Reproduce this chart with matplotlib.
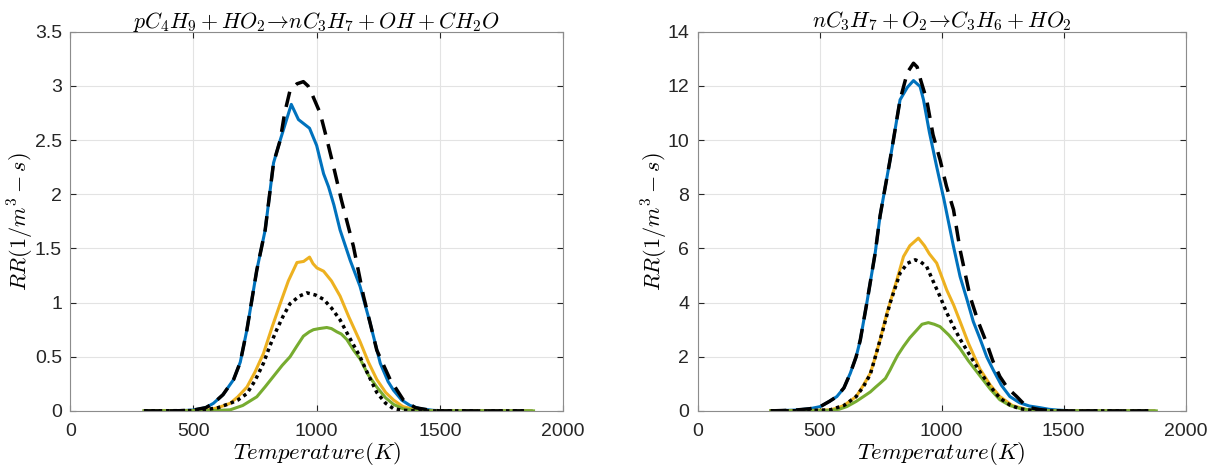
import numpy as np
import matplotlib
matplotlib.use('Agg')
import matplotlib.pyplot as plt
from matplotlib.ticker import FormatStrFormatter

plt.rcParams['font.family'] = ['Liberation Sans', 'DejaVu Sans']
plt.rcParams['mathtext.fontset'] = 'cm'

# colours (MATLAB default order)
c_blue = '#0072BD'
c_orange = '#EDB120'
c_green = '#77AC30'

# ---- left panel: pC4H9 + HO2 -> nC3H7 + OH + CH2O ----
L_blue_T = [300, 400, 450, 500, 550, 581, 620, 663, 690, 717, 757, 791, 825, 852, 897, 926, 971, 1000,
            1028, 1048, 1070, 1095, 1136, 1176, 1217, 1258, 1290, 1312, 1345, 1379, 1420, 1474, 1520, 1870]
L_blue = [0, 0, 0.002, 0.008, 0.03, 0.07, 0.15, 0.29, 0.45, 0.75, 1.30, 1.67, 2.29, 2.50, 2.83, 2.69, 2.61, 2.45,
          2.19, 2.07, 1.90, 1.67, 1.39, 1.15, 0.81, 0.44, 0.27, 0.19, 0.10, 0.05, 0.02, 0.005, 0, 0]

L_dash_T = [300, 400, 450, 500, 550, 581, 620, 663, 690, 717, 757, 791, 825, 852, 870, 892, 920, 946, 965, 980,
            1014, 1040, 1068, 1100, 1149, 1190, 1217, 1244, 1298, 1352, 1400, 1450, 1500, 1840]
L_dash = [0, 0, 0.002, 0.008, 0.03, 0.07, 0.15, 0.29, 0.45, 0.75, 1.30, 1.67, 2.29, 2.50, 2.75, 2.96, 3.02, 3.04, 3.0, 2.93,
          2.75, 2.52, 2.26, 1.95, 1.52, 1.06, 0.81, 0.56, 0.29, 0.10, 0.03, 0.01, 0, 0]

L_orange_T = [300, 500, 560, 600, 649, 680, 717, 750, 784, 820, 852, 885, 920, 947, 971, 985, 1001, 1028, 1060,
              1095, 1130, 1176, 1210, 1244, 1280, 1312, 1350, 1400, 1450, 1870]
L_orange = [0, 0.002, 0.01, 0.03, 0.07, 0.13, 0.22, 0.36, 0.53, 0.78, 0.99, 1.20, 1.37, 1.38, 1.42, 1.36, 1.32, 1.29, 1.20,
            1.06, 0.87, 0.64, 0.45, 0.29, 0.17, 0.10, 0.04, 0.01, 0, 0]

L_dot_T = [300, 500, 560, 600, 649, 680, 717, 750, 784, 810, 838, 865, 892, 930, 960, 995, 1028, 1060, 1095,
           1130, 1176, 1210, 1244, 1280, 1312, 1350, 1400, 1850]
L_dot = [0, 0.003, 0.015, 0.03, 0.07, 0.10, 0.16, 0.28, 0.44, 0.60, 0.75, 0.88, 0.99, 1.06, 1.09, 1.07, 1.03, 0.95, 0.84,
         0.69, 0.50, 0.33, 0.17, 0.07, 0.02, 0.005, 0, 0]

L_green_T = [300, 550, 600, 649, 700, 757, 790, 825, 860, 892, 920, 946, 970, 987, 1010, 1041, 1060, 1082, 1100,
             1122, 1150, 1176, 1210, 1244, 1280, 1312, 1350, 1400, 1450, 1880]
L_green = [0, 0.002, 0.005, 0.01, 0.05, 0.13, 0.22, 0.32, 0.42, 0.50, 0.60, 0.69, 0.73, 0.75, 0.76, 0.77, 0.76, 0.73, 0.71,
           0.66, 0.56, 0.48, 0.33, 0.22, 0.12, 0.06, 0.02, 0.005, 0, 0]

# ---- right panel: nC3H7 + O2 -> C3H6 + HO2 ----
R_blue_T = [300, 400, 460, 503, 540, 571, 600, 626, 650, 667, 694, 728, 748, 789, 830, 860, 885, 912, 926, 950, 980,
            1010, 1035, 1049, 1076, 1103, 1130, 1157, 1185, 1212, 1245, 1280, 1320, 1360, 1403, 1440, 1476, 1520, 1600, 1870]
R_blue = [0, 0.03, 0.08, 0.16, 0.35, 0.53, 0.85, 1.39, 2.0, 2.62, 4.0, 5.83, 7.2, 9.27, 11.49, 11.95, 12.2, 11.98, 11.49,
          10.3, 9.02, 7.8, 6.69, 6.07, 4.96, 4.15, 3.3, 2.68, 2.0, 1.51, 0.95, 0.53, 0.30, 0.18, 0.12, 0.06, 0.03, 0.01, 0, 0]

R_dash_T = [300, 400, 460, 503, 540, 571, 600, 626, 650, 667, 694, 728, 748, 789, 830, 860, 885, 900, 915, 939, 965,
            994, 1020, 1049, 1076, 1117, 1150, 1185, 1210, 1239, 1270, 1308, 1335, 1362, 1400, 1450, 1500, 1860]
R_dash = [0, 0.03, 0.08, 0.16, 0.35, 0.53, 0.85, 1.39, 2.0, 2.62, 4.0, 5.83, 7.2, 9.27, 11.49, 12.5, 12.84, 12.7, 12.2,
          11.49, 10.2, 9.27, 8.3, 7.43, 5.95, 4.22, 3.3, 2.50, 1.85, 1.27, 0.85, 0.53, 0.28, 0.12, 0.05, 0.01, 0, 0]

R_orange_T = [300, 450, 544, 571, 600, 650, 680, 708, 721, 748, 776, 817, 844, 870, 905, 930, 950, 980, 1021, 1050,
              1076, 1110, 1157, 1200, 1239, 1290, 1349, 1400, 1450, 1870]
R_orange = [0, 0.01, 0.04, 0.1, 0.2, 0.53, 0.95, 1.39, 1.76, 2.62, 3.61, 4.84, 5.70, 6.1, 6.38, 6.1, 5.8, 5.46, 4.47, 3.9,
            3.3, 2.5, 1.55, 0.95, 0.53, 0.2, 0.05, 0.01, 0, 0]

R_dot_T = [300, 450, 544, 571, 600, 650, 680, 708, 735, 760, 789, 830, 860, 892, 915, 939, 965, 994, 1020, 1049, 1076,
           1103, 1157, 1200, 1239, 1280, 1320, 1370, 1420, 1850]
R_dot = [0, 0.01, 0.04, 0.12, 0.2, 0.53, 0.9, 1.35, 2.2, 3.0, 3.98, 5.09, 5.45, 5.58, 5.5, 5.33, 4.8, 4.22, 3.65, 3.11,
         2.65, 2.25, 1.45, 0.9, 0.47, 0.22, 0.08, 0.02, 0, 0]

R_green_T = [300, 500, 544, 580, 612, 650, 680, 708, 730, 748, 770, 789, 803, 820, 844, 870, 899, 920, 946, 970, 994,
             1030, 1076, 1110, 1157, 1200, 1239, 1280, 1330, 1380, 1430, 1880]
R_green = [0, 0.005, 0.02, 0.06, 0.16, 0.35, 0.53, 0.70, 0.88, 1.02, 1.2, 1.51, 1.76, 2.05, 2.38, 2.7, 2.99, 3.2, 3.26,
           3.2, 3.11, 2.8, 2.3, 1.85, 1.3, 0.8, 0.41, 0.2, 0.07, 0.02, 0, 0]

titles = [r'$pC_4H_9+HO_2\!\rightarrow\! nC_3H_7+OH+CH_2O$',
          r'$nC_3H_7+O_2\!\rightarrow\! C_3H_6+HO_2$']

fig = plt.figure(figsize=(12.11, 4.68), dpi=100)
ax1 = fig.add_axes([0.058, 0.122, 0.407, 0.810])
ax2 = fig.add_axes([0.576, 0.122, 0.403, 0.810])

lw = 2.2
panels = [
    (ax1, (L_blue_T, L_blue), (L_orange_T, L_orange), (L_green_T, L_green), (L_dash_T, L_dash), (L_dot_T, L_dot), 3.5, 0.5, -0.069),
    (ax2, (R_blue_T, R_blue), (R_orange_T, R_orange), (R_green_T, R_green), (R_dash_T, R_dash), (R_dot_T, R_dot), 14, 2, -0.056),
]

for i, (ax, b, o, g, d, p, ymax, ystep, ylab_x) in enumerate(panels):
    ax.plot(*b, color=c_blue, lw=lw)
    ax.plot(*o, color=c_orange, lw=lw)
    ax.plot(*g, color=c_green, lw=lw)
    ax.plot(*d, color='black', lw=lw + 0.3, linestyle=(0, (4.5, 2.8)))
    ax.plot(*p, color='black', lw=lw + 0.3, linestyle=(0, (1, 1.1)))

    ax.set_xlim(0, 2000)
    ax.set_ylim(0, ymax)
    ax.set_xticks(np.arange(0, 2001, 500))
    ax.set_yticks(np.arange(0, ymax + 0.001, ystep))
    ax.yaxis.set_major_formatter(FormatStrFormatter('%g'))
    ax.grid(True, color='#e3e3e3', lw=0.8)
    ax.set_axisbelow(True)
    ax.tick_params(direction='in', top=True, right=True, labelsize=14, length=4,
                   color='#262626', labelcolor='#262626')
    ax.tick_params(axis='x', pad=9)
    ax.tick_params(axis='y', pad=6)
    for s in ax.spines.values():
        s.set_color('#8c8c8c')
        s.set_linewidth(0.8)
    ax.set_title(titles[i], fontsize=15.8, pad=3)
    ax.set_xlabel(r'$Temperature(K)$', fontsize=16.5, labelpad=0)
    ax.set_ylabel(r'$RR(1/m^3-s)$', fontsize=16)
    ax.yaxis.set_label_coords(ylab_x, 0.5)

plt.savefig('out.png', dpi=100)
